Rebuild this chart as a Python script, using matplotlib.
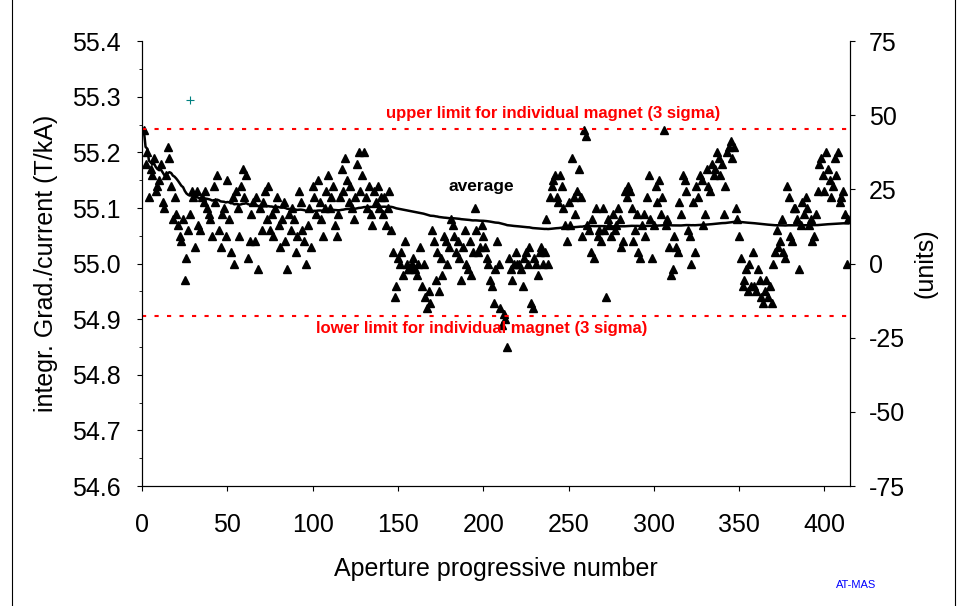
import numpy as np
import matplotlib
matplotlib.use("Agg")
import matplotlib.pyplot as plt
plt.rcParams['font.family'] = ['Liberation Sans', 'DejaVu Sans']
plt.rcParams['axes.unicode_minus'] = False

vals = [
55.24,55.18,55.2,55.12,55.17,55.16,55.19,55.13,55.14,55.15,
55.18,55.11,55.1,55.16,55.21,55.19,55.14,55.08,55.12,55.09,
55.07,55.05,55.04,55.08,54.97,55.01,55.06,55.09,55.13,55.12,
55.03,55.13,55.07,55.06,55.12,55.11,55.13,55.1,55.09,55.08,
55.05,55.14,55.11,55.16,55.06,55.03,55.09,55.1,55.05,55.15,
55.08,55.02,55.12,55.0,55.13,55.1,55.05,55.14,55.17,55.12,
55.16,55.01,55.04,55.09,55.11,55.04,55.12,54.99,55.1,55.06,
55.11,55.13,55.08,55.14,55.06,55.09,55.05,55.1,55.12,55.07,
55.03,55.08,55.11,55.04,54.99,55.09,55.06,55.1,55.08,55.02,
55.05,55.13,55.11,55.06,55.04,55.0,55.07,55.1,55.03,55.14,
55.12,55.09,55.15,55.11,55.08,55.05,55.1,55.13,55.16,55.1,
55.12,55.14,55.07,55.05,55.09,55.12,55.17,55.13,55.19,55.15,
55.11,55.14,55.1,55.08,55.12,55.18,55.2,55.13,55.16,55.2,
55.12,55.1,55.14,55.09,55.07,55.13,55.11,55.14,55.1,55.12,
55.09,55.12,55.07,55.1,55.13,55.06,55.02,54.94,54.96,55.01,
55.0,55.02,54.98,55.04,55.0,54.99,54.99,55.0,55.01,54.99,
54.98,55.0,55.03,54.96,55.0,54.94,54.92,54.95,54.93,55.06,
55.04,54.97,55.02,54.95,55.01,54.98,55.05,55.04,55.0,55.03,
55.08,55.07,55.05,55.02,55.04,55.01,54.97,55.03,55.06,55.0,
54.99,55.04,54.98,55.02,55.1,55.06,55.02,55.03,55.07,55.05,
55.03,55.01,55.0,54.97,54.96,54.93,54.99,55.04,55.0,54.92,
54.89,54.91,54.9,54.85,55.01,54.99,54.97,55.0,55.02,55.0,
55.0,54.99,54.96,55.01,55.02,55.0,55.03,54.93,54.92,55.01,
55.0,54.98,55.02,55.03,55.0,55.02,55.08,55.0,55.12,55.14,
55.15,55.16,55.12,55.11,55.16,55.14,55.1,55.07,55.04,55.11,
55.07,55.19,55.12,55.09,55.13,55.17,55.12,55.05,55.24,55.23,
55.07,55.06,55.02,55.08,55.01,55.1,55.05,55.06,55.04,55.1,
55.06,54.94,55.08,55.07,55.05,55.09,55.06,55.07,55.1,55.08,
55.03,55.04,55.13,55.12,55.14,55.13,55.1,55.04,55.06,55.09,
55.02,55.01,55.07,55.09,55.05,55.12,55.16,55.08,55.01,55.07,
55.14,55.11,55.15,55.09,55.12,55.24,55.07,55.08,55.03,54.98,
54.99,55.05,55.03,55.02,55.11,55.09,55.16,55.15,55.13,55.06,
55.05,55.0,55.11,55.02,55.14,55.12,55.16,55.15,55.07,55.09,
55.17,55.14,55.13,55.18,55.16,55.17,55.2,55.19,55.16,55.18,
55.09,55.14,55.2,55.21,55.22,55.19,55.21,55.1,55.08,55.05,
55.01,54.96,54.97,54.99,54.95,55.0,54.96,55.02,54.96,54.95,
54.99,54.97,54.94,54.93,54.95,54.97,54.94,54.96,54.93,55.0,
55.02,55.06,55.03,55.04,55.08,55.02,55.01,55.14,55.12,55.05,
55.04,55.1,55.1,55.08,54.99,55.07,55.11,55.09,55.12,55.1,
55.07,55.08,55.04,55.05,55.09,55.13,55.18,55.19,55.16,55.13,
55.2,55.17,55.15,55.12,55.14,55.19,55.16,55.2,55.11,55.12,
55.13,55.09,55.0,55.08]
aperture = np.arange(1, len(vals) + 1)
upper_limit = 55.243
lower_limit = 54.906
marker_x, marker_y = [28], [55.295]

v = np.array(vals)
avg = np.cumsum(v) / np.arange(1, len(v) + 1)

fig = plt.figure(figsize=(9.67, 6.06), dpi=100)
ax = fig.add_axes([0.147, 0.198, 0.732, 0.734])
ax.plot(aperture, v, '^', color='black', ms=5.5, mec='black')
ax.plot(aperture, avg, '-', color='black', lw=1.8)
ax.plot(marker_x, marker_y, '+', color='#008080', ms=6, mew=0.8)
ax.axhline(upper_limit, color='red', ls=(0, (2, 4)), lw=1.5)
ax.axhline(lower_limit, color='red', ls=(0, (2, 4)), lw=1.5)
ax.text(0.58, 0.838, 'upper limit for individual magnet (3 sigma)', color='red',
        fontsize=12, fontweight='bold', ha='center', va='center', transform=ax.transAxes)
ax.text(0.48, 0.355, 'lower limit for individual magnet (3 sigma)', color='red',
        fontsize=12, fontweight='bold', ha='center', va='center', transform=ax.transAxes)
ax.text(199, 55.139, 'average', fontsize=12.5, fontweight='bold', ha='center', va='center')

ax.set_xlim(0, 415)
ax.set_ylim(54.6, 55.4)
ax.set_xticks(range(0, 401, 50))
ax.set_yticks(np.arange(54.6, 55.41, 0.1))
ax.set_yticks(np.arange(54.6, 55.41, 0.05), minor=True)
ax.set_yticklabels([f'{t:.1f}' for t in np.arange(54.6, 55.41, 0.1)])
ax.tick_params(labelsize=18, direction='out')
ax.tick_params(axis='x', pad=16)
ax.tick_params(axis='y', pad=12)
ax.spines['top'].set_visible(False)
ax.set_xlabel('Aperture progressive number', fontsize=18, labelpad=14)
ax.set_ylabel('integr. Grad./current (T/kA)', fontsize=18, labelpad=10)

ax2 = ax.twinx()
ax2.set_ylim(-75, 75)
ax2.set_yticks(range(-75, 76, 25))
ax2.tick_params(labelsize=18, direction='out', pad=10)
ax2.spines['top'].set_visible(False)
ax2.set_ylabel('(units)', fontsize=18, labelpad=6)

fig.text(0.885, 0.03, 'AT-MAS', color='blue', fontsize=8, ha='center')
fig.add_artist(plt.Line2D([0.012, 0.012], [0, 1], color='black', lw=0.8, transform=fig.transFigure))
fig.add_artist(plt.Line2D([0.988, 0.988], [0, 1], color='black', lw=0.8, transform=fig.transFigure))
fig.savefig('out.png')
